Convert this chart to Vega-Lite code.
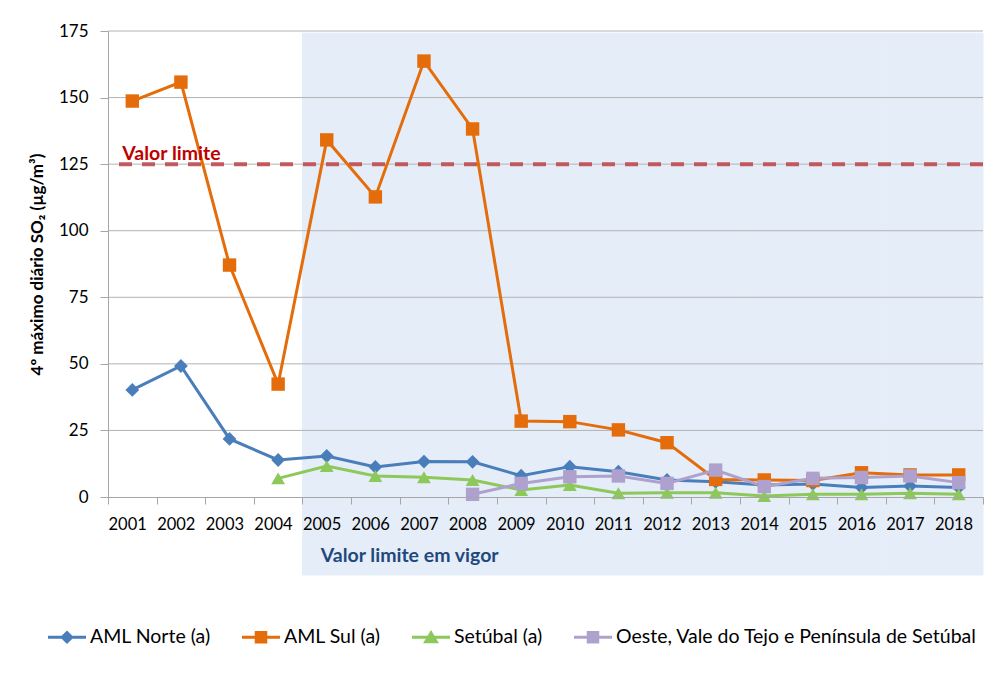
{
  "$schema": "https://vega.github.io/schema/vega-lite/v6.json",
  "width": 875,
  "height": 466,
  "autosize": {"type": "none"},
  "padding": {"left": 108, "top": 31, "right": 18, "bottom": 191},
  "config": {"font": "Lato", "view": {"stroke": null}},
  "datasets": {
    "series": [
      {"year": 2001, "series": "AML Norte (a)", "value": 40.2},
      {"year": 2002, "series": "AML Norte (a)", "value": 49.2},
      {"year": 2003, "series": "AML Norte (a)", "value": 21.8},
      {"year": 2004, "series": "AML Norte (a)", "value": 13.9},
      {"year": 2005, "series": "AML Norte (a)", "value": 15.4},
      {"year": 2006, "series": "AML Norte (a)", "value": 11.3},
      {"year": 2007, "series": "AML Norte (a)", "value": 13.3},
      {"year": 2008, "series": "AML Norte (a)", "value": 13.2},
      {"year": 2009, "series": "AML Norte (a)", "value": 8.0},
      {"year": 2010, "series": "AML Norte (a)", "value": 11.4},
      {"year": 2011, "series": "AML Norte (a)", "value": 9.5},
      {"year": 2012, "series": "AML Norte (a)", "value": 6.4},
      {"year": 2013, "series": "AML Norte (a)", "value": 5.7},
      {"year": 2014, "series": "AML Norte (a)", "value": 4.5},
      {"year": 2015, "series": "AML Norte (a)", "value": 4.9},
      {"year": 2016, "series": "AML Norte (a)", "value": 3.6},
      {"year": 2017, "series": "AML Norte (a)", "value": 4.1},
      {"year": 2018, "series": "AML Norte (a)", "value": 3.6},
      {"year": 2001, "series": "AML Sul (a)", "value": 148.7},
      {"year": 2002, "series": "AML Sul (a)", "value": 155.8},
      {"year": 2003, "series": "AML Sul (a)", "value": 87.1},
      {"year": 2004, "series": "AML Sul (a)", "value": 42.4},
      {"year": 2005, "series": "AML Sul (a)", "value": 134.1},
      {"year": 2006, "series": "AML Sul (a)", "value": 112.7},
      {"year": 2007, "series": "AML Sul (a)", "value": 163.7},
      {"year": 2008, "series": "AML Sul (a)", "value": 138.2},
      {"year": 2009, "series": "AML Sul (a)", "value": 28.5},
      {"year": 2010, "series": "AML Sul (a)", "value": 28.3},
      {"year": 2011, "series": "AML Sul (a)", "value": 25.2},
      {"year": 2012, "series": "AML Sul (a)", "value": 20.4},
      {"year": 2013, "series": "AML Sul (a)", "value": 6.6},
      {"year": 2014, "series": "AML Sul (a)", "value": 6.4},
      {"year": 2015, "series": "AML Sul (a)", "value": 6.2},
      {"year": 2016, "series": "AML Sul (a)", "value": 9.1},
      {"year": 2017, "series": "AML Sul (a)", "value": 8.3},
      {"year": 2018, "series": "AML Sul (a)", "value": 8.3},
      {"year": 2004, "series": "Setúbal (a)", "value": 7.0},
      {"year": 2005, "series": "Setúbal (a)", "value": 11.6},
      {"year": 2006, "series": "Setúbal (a)", "value": 7.9},
      {"year": 2007, "series": "Setúbal (a)", "value": 7.4},
      {"year": 2008, "series": "Setúbal (a)", "value": 6.4},
      {"year": 2009, "series": "Setúbal (a)", "value": 2.6},
      {"year": 2010, "series": "Setúbal (a)", "value": 4.5},
      {"year": 2011, "series": "Setúbal (a)", "value": 1.4},
      {"year": 2012, "series": "Setúbal (a)", "value": 1.6},
      {"year": 2013, "series": "Setúbal (a)", "value": 1.6},
      {"year": 2014, "series": "Setúbal (a)", "value": 0.4},
      {"year": 2015, "series": "Setúbal (a)", "value": 1.0},
      {"year": 2016, "series": "Setúbal (a)", "value": 1.0},
      {"year": 2017, "series": "Setúbal (a)", "value": 1.4},
      {"year": 2018, "series": "Setúbal (a)", "value": 1.0},
      {"year": 2008, "series": "Oeste, Vale do Tejo e Península de Setúbal", "value": 1.0},
      {"year": 2009, "series": "Oeste, Vale do Tejo e Península de Setúbal", "value": 5.1},
      {"year": 2010, "series": "Oeste, Vale do Tejo e Península de Setúbal", "value": 7.6},
      {"year": 2011, "series": "Oeste, Vale do Tejo e Península de Setúbal", "value": 7.9},
      {"year": 2012, "series": "Oeste, Vale do Tejo e Península de Setúbal", "value": 5.1},
      {"year": 2013, "series": "Oeste, Vale do Tejo e Península de Setúbal", "value": 10.1},
      {"year": 2014, "series": "Oeste, Vale do Tejo e Península de Setúbal", "value": 3.9},
      {"year": 2015, "series": "Oeste, Vale do Tejo e Península de Setúbal", "value": 7.0},
      {"year": 2016, "series": "Oeste, Vale do Tejo e Península de Setúbal", "value": 7.3},
      {"year": 2017, "series": "Oeste, Vale do Tejo e Península de Setúbal", "value": 7.9},
      {"year": 2018, "series": "Oeste, Vale do Tejo e Península de Setúbal", "value": 5.4}
    ],
    "periodo": [
      {"year": 2005}, {"year": 2006}, {"year": 2007}, {"year": 2008}, {"year": 2009},
      {"year": 2010}, {"year": 2011}, {"year": 2012}, {"year": 2013}, {"year": 2014},
      {"year": 2015}, {"year": 2016}, {"year": 2017}, {"year": 2018}
    ],
    "grid": [{"v": 25}, {"v": 50}, {"v": 75}, {"v": 100}, {"v": 125}, {"v": 150}, {"v": 175}]
  },
  "layer": [
    {
      "data": {"name": "periodo"},
      "mark": {"type": "rect", "color": "#E5EDF8", "stroke": "#E5EDF8", "strokeWidth": 1},
      "encoding": {
        "x": {"field": "year", "type": "ordinal", "scale": {"paddingInner": 0, "paddingOuter": 0}},
        "y": {"datum": 174.2, "type": "quantitative"},
        "y2": {"datum": -29.3}
      }
    },
    {
      "data": {"name": "grid"},
      "mark": {"type": "rule", "color": "#B3B3B3", "strokeWidth": 1},
      "encoding": {
        "y": {"field": "v", "type": "quantitative"}
      }
    },
    {
      "data": {"values": [{}]},
      "mark": {"type": "rule", "color": "#BE4B50", "strokeWidth": 4, "strokeDash": [13, 10], "opacity": 0.9},
      "encoding": {
        "y": {"datum": 125, "type": "quantitative"}
      }
    },
    {
      "data": {"name": "series"},
      "mark": {"type": "line", "strokeWidth": 3},
      "encoding": {
        "x": {
          "field": "year", "type": "ordinal",
          "scale": {"paddingInner": 0, "paddingOuter": 0},
          "axis": {
            "title": null, "labelAngle": 0, "tickBand": "extent", "tickSize": 7,
            "tickColor": "#A6A6A6", "domainColor": "#A6A6A6", "labelFontSize": 16.5,
            "labelColor": "#000000", "labelPadding": 20, "labelOffset": 14, "zindex": 1
          }
        },
        "y": {
          "field": "value", "type": "quantitative",
          "scale": {"domain": [0, 175], "nice": false},
          "axis": {
            "values": [0, 25, 50, 75, 100, 125, 150, 175], "grid": false,
            "tickSize": 8, "labelPadding": 12, "tickColor": "#A6A6A6", "domainColor": "#A6A6A6",
            "labelFontSize": 17, "labelColor": "#000000",
            "title": "4º máximo diário SO₂  (µg/m³)", "titleFontSize": 17, "titleFontWeight": "bold",
            "titleColor": "#000000", "titlePadding": 12, "zindex": 1
          }
        },
        "color": {
          "field": "series", "type": "nominal",
          "scale": {
            "domain": ["AML Norte (a)", "AML Sul (a)", "Setúbal (a)", "Oeste, Vale do Tejo e Península de Setúbal"],
            "range": ["#4A7EBB", "#E46C0A", "#8CC85A", "#AFA1CD"]
          },
          "legend": {
            "orient": "none", "legendX": -60, "legendY": 587, "direction": "horizontal",
            "title": null, "labelFontSize": 19.5, "labelColor": "#000000", "labelLimit": 0,
            "symbolSize": 1444, "symbolStrokeWidth": 0, "columnPadding": 31, "labelOffset": 4,
            "symbolOpacity": 1
          }
        }
      }
    },
    {
      "data": {"name": "series"},
      "mark": {"type": "point", "filled": true, "opacity": 0, "size": 10},
      "encoding": {
        "x": {"field": "year", "type": "ordinal"},
        "y": {"field": "value", "type": "quantitative"},
        "color": {"field": "series", "type": "nominal"},
        "shape": {
          "field": "series", "type": "nominal",
          "scale": {
            "domain": ["AML Norte (a)", "AML Sul (a)", "Setúbal (a)", "Oeste, Vale do Tejo e Península de Setúbal"],
            "range": [
              "M-1,-0.08H1V0.08H-1Z M0,-0.36L0.36,0L0,0.36L-0.36,0Z",
              "M-1,-0.08H1V0.08H-1Z M-0.33,-0.33H0.33V0.33H-0.33Z",
              "M-1,-0.08H1V0.08H-1Z M0,-0.38L0.42,0.32H-0.42Z",
              "M-1,-0.08H1V0.08H-1Z M-0.33,-0.33H0.33V0.33H-0.33Z"
            ]
          },
          "legend": {
            "orient": "none", "legendX": -60, "legendY": 587, "direction": "horizontal",
            "title": null, "labelFontSize": 19.5, "labelColor": "#000000", "labelLimit": 0,
            "symbolSize": 1444, "symbolStrokeWidth": 0, "columnPadding": 31, "labelOffset": 4,
            "symbolOpacity": 1
          }
        }
      }
    },
    {
      "data": {"name": "series"},
      "transform": [{"filter": "datum.series === 'AML Norte (a)'"}],
      "mark": {"type": "point", "filled": true, "opacity": 1, "shape": "diamond", "size": 190},
      "encoding": {
        "x": {"field": "year", "type": "ordinal"},
        "y": {"field": "value", "type": "quantitative"},
        "color": {"field": "series", "type": "nominal"}
      }
    },
    {
      "data": {"name": "series"},
      "transform": [{"filter": "datum.series === 'AML Sul (a)'"}],
      "mark": {"type": "point", "filled": true, "opacity": 1, "shape": "square", "size": 180},
      "encoding": {
        "x": {"field": "year", "type": "ordinal"},
        "y": {"field": "value", "type": "quantitative"},
        "color": {"field": "series", "type": "nominal"}
      }
    },
    {
      "data": {"name": "series"},
      "transform": [{"filter": "datum.series === 'Setúbal (a)'"}],
      "mark": {"type": "point", "filled": true, "opacity": 1, "shape": "triangle-up", "size": 190},
      "encoding": {
        "x": {"field": "year", "type": "ordinal"},
        "y": {"field": "value", "type": "quantitative"},
        "color": {"field": "series", "type": "nominal"}
      }
    },
    {
      "data": {"name": "series"},
      "transform": [{"filter": "datum.series === 'Oeste, Vale do Tejo e Península de Setúbal'"}],
      "mark": {"type": "point", "filled": true, "opacity": 1, "shape": "square", "size": 180},
      "encoding": {
        "x": {"field": "year", "type": "ordinal"},
        "y": {"field": "value", "type": "quantitative"},
        "color": {"field": "series", "type": "nominal"}
      }
    },
    {
      "data": {"values": [{}]},
      "mark": {"type": "text", "text": "Valor limite", "align": "left", "baseline": "alphabetic", "dx": -10, "dy": -4, "fontSize": 19.5, "fontWeight": "bold", "color": "#C00000"},
      "encoding": {
        "x": {"datum": 2001, "type": "ordinal"},
        "y": {"datum": 125, "type": "quantitative"}
      }
    },
    {
      "data": {"values": [{}]},
      "mark": {"type": "text", "text": "Valor limite em vigor", "align": "left", "baseline": "alphabetic", "dx": -6, "dy": 65, "fontSize": 19.5, "fontWeight": "bold", "color": "#1F497D"},
      "encoding": {
        "x": {"datum": 2005, "type": "ordinal"},
        "y": {"datum": 0, "type": "quantitative"}
      }
    }
  ]
}
